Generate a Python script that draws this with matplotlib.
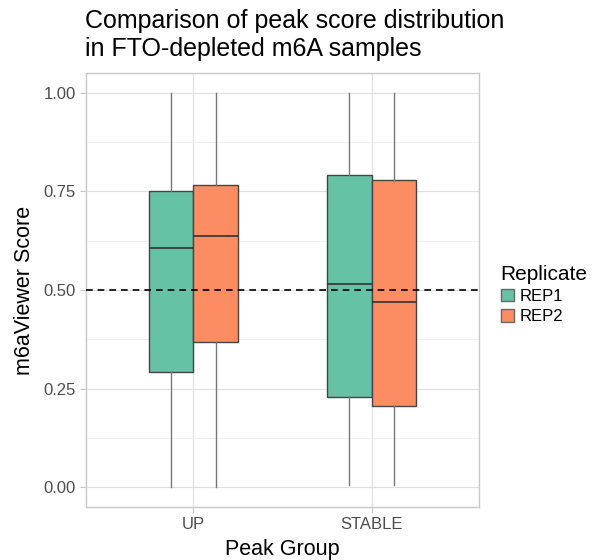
import matplotlib.pyplot as plt
from matplotlib.patches import Patch

plt.rcParams['font.family'] = ['Liberation Sans', 'DejaVu Sans']

# Peak groups and replicates
groups = ['UP', 'STABLE']
replicates = ['REP1', 'REP2']
colors = ['#66C2A5', '#FC8D62']

# Box statistics (per replicate, per group)
whislo = {'REP1': [0.0, 0.005], 'REP2': [0.0, 0.005]}
q1 = {'REP1': [0.292, 0.229], 'REP2': [0.367, 0.205]}
med = {'REP1': [0.607, 0.515], 'REP2': [0.637, 0.470]}
q3 = {'REP1': [0.751, 0.792], 'REP2': [0.766, 0.778]}
whishi = {'REP1': [1.0, 1.0], 'REP2': [1.0, 1.0]}


def main():
    fig = plt.figure(figsize=(6, 5.6), dpi=100)
    ax = fig.add_axes([86 / 600, 1 - 507 / 560, (479 - 86) / 600, (507 - 73) / 560])

    width = 0.25
    for r, rep in enumerate(replicates):
        offset = (r - 0.5) * width
        stats = []
        for g in range(len(groups)):
            stats.append({'whislo': whislo[rep][g], 'q1': q1[rep][g], 'med': med[rep][g],
                          'q3': q3[rep][g], 'whishi': whishi[rep][g], 'fliers': []})
        pos = [g + offset for g in range(len(groups))]
        ax.bxp(stats, positions=pos, widths=width, patch_artist=True, showcaps=False,
               boxprops=dict(facecolor=colors[r], edgecolor='#444444', linewidth=1.0),
               medianprops=dict(color='#333333', linewidth=1.2),
               whiskerprops=dict(color='#777777', linewidth=1.0),
               manage_ticks=False, zorder=3)

    ax.axhline(0.5, color='black', linestyle=(0, (4, 3)), linewidth=1.2, zorder=4)

    ax.set_xlim(-0.6, 1.6)
    ax.set_ylim(-0.05, 1.05)
    ax.set_xticks(range(len(groups)))
    ax.set_xticklabels(groups)
    ax.set_yticks([0, 0.25, 0.5, 0.75, 1.0])
    ax.set_yticklabels(['0.00', '0.25', '0.50', '0.75', '1.00'])
    ax.set_yticks([0.125, 0.375, 0.625, 0.875], minor=True)

    ax.grid(True, which='major', color='#E0E0E0', linewidth=0.9, zorder=0)
    ax.grid(True, which='minor', axis='y', color='#EDEDED', linewidth=0.6, zorder=0)
    ax.set_axisbelow(True)
    for sp in ax.spines.values():
        sp.set_color('#C8C8C8')
        sp.set_linewidth(1.0)
    ax.tick_params(which='major', colors='#C8C8C8', labelcolor='#4D4D4D',
                   labelsize=12, length=4, width=0.8)
    ax.tick_params(which='minor', length=0)

    ax.set_xlabel('Peak Group', fontsize=15.5, labelpad=5)
    ax.set_ylabel('m6aViewer Score', fontsize=15.5, labelpad=6)

    fig.text(85 / 600, 1 - 9 / 560,
             'Comparison of peak score distribution\nin FTO-depleted m6A samples',
             fontsize=18, ha='left', va='top', linespacing=1.2)

    handles = [Patch(facecolor=c, edgecolor='#666666', label=rep)
               for c, rep in zip(colors, replicates)]
    leg = fig.legend(handles=handles, title='Replicate', loc='upper left',
                     bbox_to_anchor=(494 / 600, 1 - 258 / 560), frameon=False,
                     fontsize=12, title_fontsize=15, handlelength=0.8, handleheight=0.8,
                     handletextpad=0.35, labelspacing=0.3, borderaxespad=0)
    leg._legend_box.align = 'left'

    fig.savefig('out.png', dpi=100)


if __name__ == '__main__':
    main()
